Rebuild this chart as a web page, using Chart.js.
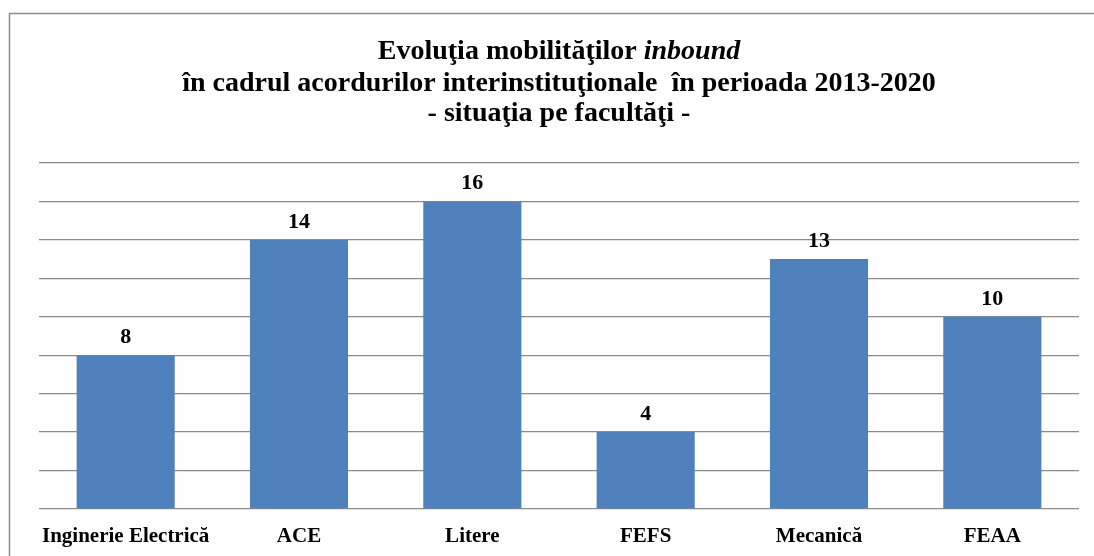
<!DOCTYPE html>
<html>
<head>
<meta charset="utf-8">
<script src="https://cdn.jsdelivr.net/npm/chart.js@4.4.0/dist/chart.umd.min.js"></script>
<style>
    html, body { margin: 0; padding: 0; background: #fff; }
    #wrap { position: relative; width: 1094px; height: 556px; }
</style>
</head>
<body>
<div id="wrap"><canvas id="chart" width="1094" height="556"></canvas></div>
<script>
// Chart data
const categories = ['Inginerie Electrică', 'ACE', 'Litere', 'FEFS', 'Mecanică', 'FEAA'];
const mobilitati = [8, 14, 16, 4, 13, 10];
const yMax = 18;
const yStep = 2;

const SERIF = '"Liberation Serif", "Times New Roman", serif';

// Title with an italic word, drawn by hand
const titleLines = [
    [{ text: 'Evoluţia mobilităţilor ', italic: false }, { text: 'inbound', italic: true }],
    [{ text: 'în cadrul acordurilor interinstituţionale  în perioada 2013-2020', italic: false }],
    [{ text: '- situaţia pe facultăţi -', italic: false }]
];

const framePlugin = {
    id: 'frame',
    beforeDraw(chart) {
        const ctx = chart.ctx;
        ctx.save();
        ctx.strokeStyle = '#8a8a8a';
        ctx.lineWidth = 1.5;
        ctx.beginPath();
        ctx.moveTo(9.5, 560);
        ctx.lineTo(9.5, 13.5);
        ctx.lineTo(1100, 13.5);
        ctx.stroke();
        ctx.restore();
    }
};

const titlePlugin = {
    id: 'multiTitle',
    afterDraw(chart) {
        const ctx = chart.ctx;
        const cx = 559;
        const baselines = [59, 91, 121];
        ctx.save();
        ctx.fillStyle = '#000';
        ctx.textBaseline = 'alphabetic';
        titleLines.forEach((parts, i) => {
            let total = 0;
            parts.forEach(p => {
                ctx.font = (p.italic ? 'italic ' : '') + 'bold 28px ' + SERIF;
                total += ctx.measureText(p.text).width;
            });
            let x = cx - total / 2;
            parts.forEach(p => {
                ctx.font = (p.italic ? 'italic ' : '') + 'bold 28px ' + SERIF;
                ctx.textAlign = 'left';
                ctx.fillText(p.text, x, baselines[i]);
                x += ctx.measureText(p.text).width;
            });
        });
        ctx.restore();
    }
};

const valueLabels = {
    id: 'valueLabels',
    afterDatasetsDraw(chart) {
        const ctx = chart.ctx;
        const meta = chart.getDatasetMeta(0);
        ctx.save();
        ctx.font = 'bold 22px ' + SERIF;
        ctx.fillStyle = '#000';
        ctx.textAlign = 'center';
        ctx.textBaseline = 'alphabetic';
        meta.data.forEach((bar, i) => {
            ctx.fillText(String(mobilitati[i]), bar.x, bar.y - 12);
        });
        ctx.restore();
    }
};

const ctx = document.getElementById('chart').getContext('2d');
new Chart(ctx, {
    type: 'bar',
    data: {
        labels: categories,
        datasets: [{
            data: mobilitati,
            backgroundColor: '#4F81BD',
            borderWidth: 0,
            categoryPercentage: 1.0,
            barPercentage: 0.566
        }]
    },
    options: {
        responsive: false,
        animation: false,
        layout: {
            padding: { left: 39, right: 15, top: 163, bottom: 0 }
        },
        plugins: {
            legend: { display: false },
            title: { display: false },
            tooltip: { enabled: false }
        },
        scales: {
            x: {
                grid: { display: false },
                border: { display: false },
                ticks: {
                    color: '#000',
                    font: { family: SERIF, size: 21, weight: 'bold' },
                    padding: 7,
                    maxRotation: 0,
                    autoSkip: false
                },
                afterFit(scale) { scale.height = 47; }
            },
            y: {
                min: 0,
                max: yMax,
                ticks: { display: false, stepSize: yStep },
                grid: { color: '#8a8a8a', lineWidth: 1.3, drawTicks: false },
                border: { display: false },
                afterFit(scale) { scale.width = 0; }
            }
        }
    },
    plugins: [framePlugin, titlePlugin, valueLabels]
});
</script>
</body>
</html>
